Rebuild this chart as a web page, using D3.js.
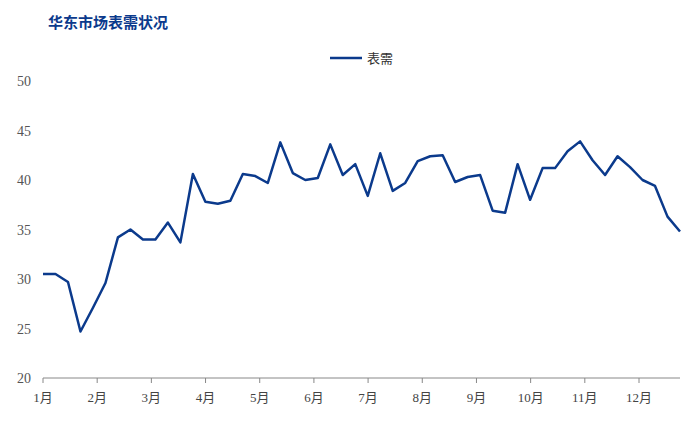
<!DOCTYPE html>
<html><head><meta charset="utf-8">
<script src="https://cdn.jsdelivr.net/npm/d3@7"></script>
<style>
body{margin:0;background:#fff;}
text{font-family:"Liberation Serif","Noto Sans CJK SC",serif;}
</style></head>
<body><svg width="700" height="429"></svg>
<script>
// weekly values
var values = [30.5,30.5,29.7,24.7,27.1,29.6,34.2,35.0,34.0,34.0,35.7,33.7,40.6,37.8,37.6,37.9,
  40.6,40.4,39.7,43.8,40.7,40.0,40.2,43.6,40.5,41.6,38.4,42.7,38.9,39.7,41.9,42.4,42.5,39.8,
  40.3,40.5,36.9,36.7,41.6,38.0,41.2,41.2,42.9,43.9,42.0,40.5,42.4,41.3,40.0,39.4,36.3,34.8];
var months = ["1月","2月","3月","4月","5月","6月","7月","8月","9月","10月","11月","12月"];
var yTicks = [20,25,30,35,40,45,50];

var svg = d3.select("svg");
var plotLeft = 43, plotRight = 680, plotTop = 81, plotBottom = 378;
var blue = "#0b3a8c";

var x = d3.scaleLinear().domain([0, values.length-1]).range([plotLeft, plotRight]);
var xm = d3.scaleLinear().domain([0, 11]).range([43, 639]);
var y = d3.scaleLinear().domain([20, 50]).range([plotBottom, plotTop]);

// title
svg.append("text").attr("x", 48).attr("y", 28)
  .style("font-size", "15px").style("font-weight", "bold").style("fill", blue)
  .style("font-family", "'Noto Sans CJK SC'")
  .text("华东市场表需状况");

// y axis labels
svg.selectAll(".yl").data(yTicks).enter().append("text")
  .attr("x", 31).attr("y", function(d){ return y(d) + 5; })
  .attr("text-anchor", "end").style("font-size", "14px").style("fill", "#555")
  .text(function(d){ return d; });

// x axis
svg.append("line").attr("x1", plotLeft).attr("x2", plotRight).attr("y1", plotBottom).attr("y2", plotBottom)
  .attr("stroke", "#888").attr("stroke-width", 1);
svg.selectAll(".xt").data(months).enter().append("line")
  .attr("x1", function(d,i){ return xm(i); }).attr("x2", function(d,i){ return xm(i); })
  .attr("y1", plotBottom).attr("y2", plotBottom + 5).attr("stroke", "#888");
svg.selectAll(".xl").data(months).enter().append("text")
  .attr("x", function(d,i){ return xm(i); }).attr("y", plotBottom + 24)
  .attr("text-anchor", "middle").style("font-size", "13px").style("fill", "#444")
  .text(function(d){ return d; });

// line
var line = d3.line().x(function(d,i){ return x(i); }).y(function(d){ return y(d); });
svg.append("path").datum(values).attr("d", line)
  .attr("fill", "none").attr("stroke", blue).attr("stroke-width", 2.5)
  .attr("stroke-linejoin", "round");

// legend
svg.append("line").attr("x1", 330).attr("x2", 362).attr("y1", 58).attr("y2", 58)
  .attr("stroke", blue).attr("stroke-width", 2.5);
svg.append("text").attr("x", 367).attr("y", 63).style("font-size", "13px").style("fill", "#333")
  .text("表需");
</script></body></html>
